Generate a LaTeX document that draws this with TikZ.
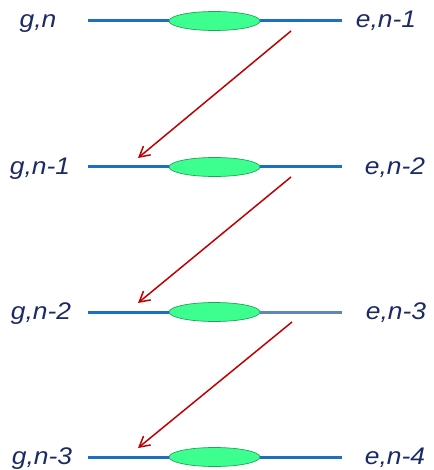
\documentclass[tikz,border=0pt]{standalone}
\usepackage{fontspec}
\setmainfont{Liberation Sans}
\usetikzlibrary{arrows.meta,positioning,shapes.geometric}
\definecolor{lvlblue}{HTML}{1872C0}
\definecolor{lvlgrey}{HTML}{5E88B8}
\definecolor{blobfill}{HTML}{3DFF8F}
\definecolor{blobedge}{HTML}{23A35A}
\definecolor{decred}{HTML}{C00000}
\definecolor{lbltext}{HTML}{1B2A66}
\tikzset{
  lvlline/.style={draw=lvlblue, line width=3pt},
  lvlblob/.style={ellipse, draw=blobedge, fill=blobfill, line width=0.7pt, minimum width=91pt, minimum height=19pt, inner sep=0pt},
  lvllabel/.style={font=\fontsize{24}{24}\selectfont\itshape, text=lbltext, inner sep=0pt, anchor=base},
  decarrow/.style={-{Straight Barb[length=3.6mm,width=4mm]}, draw=decred, line width=1.5pt},
}
\newcommand{\lvltext}[1]{\scalebox{1.1}[1]{#1}}

\begin{document}
\begin{tikzpicture}[x=1pt,y=-1pt]
  \useasboundingbox (0,0) rectangle (433,470);

  % levels: ground g,n-k (left) and excited e,n-k-1 (right)
  \node[lvllabel] (g0) at (38,28) {\lvltext{g,n}};
  \node[lvllabel] (e1) at (386,28) {\lvltext{e,n-1}};
  \coordinate (gL0) at (88,21);
  \coordinate (eR1) at (342,21);
  \node[lvlblob] (blob0) at (214.5,21) {};

  \node[lvllabel] (g1) at (40,175) {\lvltext{g,n-1}};
  \node[lvllabel] (e2) at (395,175) {\lvltext{e,n-2}};
  \coordinate (gL1) at (88,167);
  \coordinate (eR2) at (342,167);
  \node[lvlblob] (blob1) at (214.5,167) {};

  \node[lvllabel] (g2) at (41,319) {\lvltext{g,n-2}};
  \node[lvllabel] (e3) at (396,319) {\lvltext{e,n-3}};
  \coordinate (gL2) at (88,312);
  \coordinate (eR3) at (342,312);
  \node[lvlblob] (blob2) at (214.5,312) {};

  \node[lvllabel] (g3) at (42,464) {\lvltext{g,n-3}};
  \node[lvllabel] (e4) at (395,464) {\lvltext{e,n-4}};
  \coordinate (gL3) at (88,457);
  \coordinate (eR4) at (342,457);
  \node[lvlblob] (blob3) at (214.5,457) {};

  \draw[lvlline] (gL0) -- (blob0.west);
  \draw[lvlline] (blob0.east) -- (eR1);
  \draw[lvlline] (gL1) -- (blob1.west);
  \draw[lvlline] (blob1.east) -- (eR2);
  \draw[lvlline] (gL2) -- (blob2.west);
  \draw[lvlline, draw=lvlgrey] (blob2.east) -- (eR3);
  \draw[lvlline] (gL3) -- (blob3.west);
  \draw[lvlline] (blob3.east) -- (eR4);

  % decay steps
  \coordinate (d0) at (291,31);
  \coordinate (a1) at (138,158);
  \coordinate (d1) at (291,177);
  \coordinate (a2) at (138,303);
  \coordinate (d2) at (292,322);
  \coordinate (a3) at (138,448);
  \draw[decarrow] (d0) -- (a1);
  \draw[decarrow] (d1) -- (a2);
  \draw[decarrow] (d2) -- (a3);
\end{tikzpicture}
\end{document}
